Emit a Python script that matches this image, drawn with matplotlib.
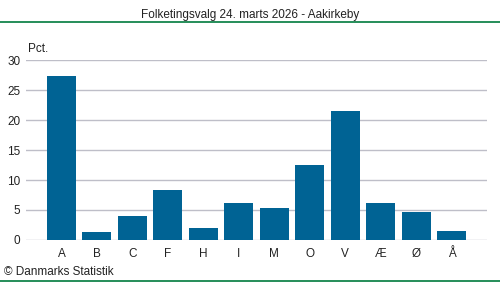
import matplotlib
matplotlib.use("Agg")
import matplotlib.pyplot as plt
from matplotlib.lines import Line2D

plt.rcParams['font.family'] = ['Liberation Sans', 'DejaVu Sans']

# party letters and vote share (pct.)
parties = ["A", "B", "C", "F", "H", "I", "M", "O", "V", "Æ", "Ø", "Å"]
shares = [27.3, 1.3, 4.0, 8.3, 2.0, 6.2, 5.3, 12.5, 21.5, 6.2, 4.7, 1.5]
yticks = [0, 5, 10, 15, 20, 25, 30]

title = "Folketingsvalg 24. marts 2026 - Aakirkeby"
bar_color = "#006394"
grid_color = "#BEBEC8"
green = "#007A3D"

fig = plt.figure(figsize=(5, 2.82), dpi=100)
ax = fig.add_axes([0.052, 0.149, 0.922, 0.638])

x = list(range(len(parties)))
ax.bar(x, shares, width=0.82, color=bar_color, zorder=3)

ax.set_xlim(-1, len(parties))
ax.set_ylim(0, 30)
ax.set_yticks(yticks)
ax.set_xticks(x)
ax.set_xticklabels(parties)
ax.tick_params(length=0, labelsize=8.5, colors="#222222")
ax.tick_params(axis="y", pad=4)
ax.tick_params(axis="x", pad=6)
ax.grid(axis="y", color=grid_color, linewidth=1, zorder=0)
for s in ax.spines.values():
    s.set_visible(False)

ax.text(0.005, 1.03, "Pct.", transform=ax.transAxes, fontsize=8.5,
        ha="left", va="bottom", color="#222222")

fig.text(0.5, 0.947, title, ha="center", va="center", fontsize=8.5, color="#222222")
fig.add_artist(Line2D([0, 1], [0.922, 0.922], color=green, linewidth=1.2,
                      transform=fig.transFigure))
fig.add_artist(Line2D([0, 1], [0.004, 0.004], color=green, linewidth=1.2,
                      transform=fig.transFigure))
fig.text(0.008, 0.037, "© Danmarks Statistik", ha="left", va="center",
         fontsize=8.5, color="#222222")

fig.savefig("out.png", dpi=100, facecolor="white")
